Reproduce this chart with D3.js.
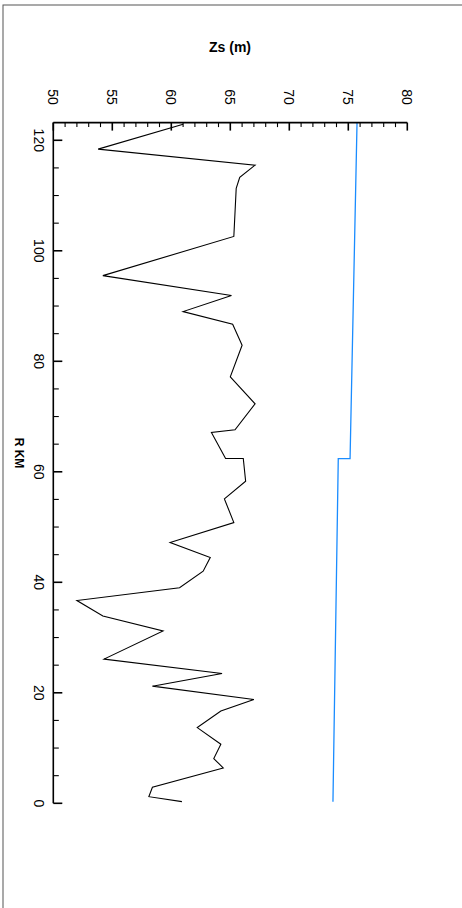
<!DOCTYPE html>
<html><head><meta charset="utf-8">
<script src="https://cdn.jsdelivr.net/npm/d3@7"></script>
<style>body{margin:0;background:#fff;} svg{display:block;font-family:"Liberation Sans",Arial,sans-serif;}</style>
</head><body>
<script>
// Bed elevation (black) along river km
const rkmBed = [122.9,118.4,115.5,113.3,111.3,102.6,95.5,91.9,89.0,86.7,82.9,77.2,72.3,67.6,67.1,62.4,62.4,58.3,55.1,50.8,47.2,44.5,42.0,39.0,36.7,33.9,31.2,26.1,23.5,21.2,18.8,16.7,13.7,10.7,8.1,6.4,2.9,1.2,0.3];
const zsBed  = [61.0,53.8,67.1,65.8,65.5,65.3,54.2,65.1,61.0,65.2,66.0,65.0,67.1,65.4,63.4,64.6,66.1,66.3,64.5,65.3,59.9,63.3,62.7,60.7,52.0,54.2,59.3,54.3,64.3,58.4,67.0,64.2,62.2,64.2,63.6,64.4,58.4,58.1,60.9];
// Water surface (blue)
const rkmWs = [123.2,62.4,62.4,0.3];
const zsWs  = [75.74,75.15,74.15,73.7];
const zsTicks = [50,55,60,65,70,75,80];
const rkmTicks = [0,20,40,60,80,100,120];

const W=462,H=908;
const svg=d3.select("body").append("svg").attr("width",W).attr("height",H);
svg.append("rect").attr("x",3).attr("y",5).attr("width",480).attr("height",920)
  .attr("fill","none").attr("stroke","#555").attr("stroke-width",1);

const x=d3.scaleLinear().domain([50,80]).range([53.3,407.3]);
const y=d3.scaleLinear().domain([0,123.2]).range([803.3,122.6]);

// Lines
const line=d3.line().x((d)=>x(d[1])).y((d)=>y(d[0]));
svg.append("path").datum(rkmBed.map((r,i)=>[r,zsBed[i]]))
  .attr("d",line).attr("fill","none").attr("stroke","#000").attr("stroke-width",1.1);
svg.append("path").datum(rkmWs.map((r,i)=>[r,zsWs[i]]))
  .attr("d",line).attr("fill","none").attr("stroke","#1a8cff").attr("stroke-width",1.3);

// Top axis (Zs)
const gx=svg.append("g");
gx.append("line").attr("x1",x(50)).attr("x2",x(80)).attr("y1",y(123.2)).attr("y2",y(123.2))
  .attr("stroke","#000").attr("stroke-width",1.6);
d3.range(50,81,1).forEach(v=>{
  const major=zsTicks.includes(v);
  gx.append("line").attr("x1",x(v)).attr("x2",x(v)).attr("y1",y(123.2)).attr("y2",y(123.2)+(major?8:4.5))
    .attr("stroke","#000").attr("stroke-width",major?1.6:1.1);
});
zsTicks.forEach(v=>{
  gx.append("text").attr("transform",`translate(${x(v)},97) rotate(90)`)
    .attr("text-anchor","middle").attr("dominant-baseline","central")
    .attr("font-size",14).text(v);
});

// Left axis (RKM)
const gy=svg.append("g");
gy.append("line").attr("x1",x(50)).attr("x2",x(50)).attr("y1",y(0)).attr("y2",y(123.2))
  .attr("stroke","#000").attr("stroke-width",1.6);
d3.range(0,121,5).forEach(v=>{
  const major=rkmTicks.includes(v);
  gy.append("line").attr("x1",x(50)).attr("x2",x(50)+(major?9:5.5)).attr("y1",y(v)).attr("y2",y(v))
    .attr("stroke","#000").attr("stroke-width",major?1.6:1.1);
});
rkmTicks.forEach(v=>{
  gy.append("text").attr("transform",`translate(39,${y(v)}) rotate(90)`)
    .attr("text-anchor","middle").attr("dominant-baseline","central")
    .attr("font-size",14).text(v);
});

// Titles
svg.append("text").attr("x",230).attr("y",47).attr("text-anchor","middle").attr("dominant-baseline","central")
  .attr("font-size",14).attr("font-weight","bold").text("Zs (m)");
svg.append("text").attr("transform",`translate(19,453) rotate(90)`)
  .attr("text-anchor","middle").attr("dominant-baseline","central")
  .attr("font-size",12).attr("font-weight","bold").text("R KM");
</script>
</body></html>
